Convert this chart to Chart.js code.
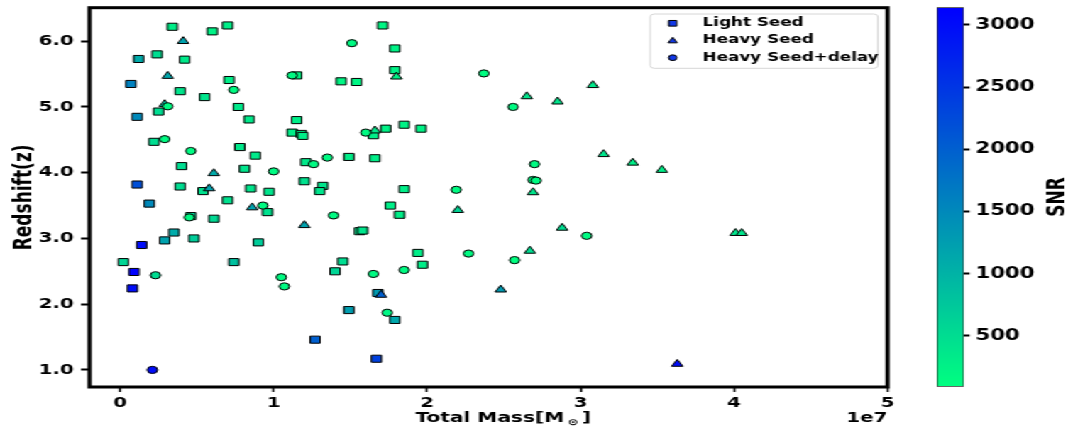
<!DOCTYPE html>
<html>
<head>
<meta charset="utf-8">
<script src="https://cdn.jsdelivr.net/npm/chart.js@4/dist/chart.umd.min.js"></script>
<style>
  html, body { margin: 0; padding: 0; background: #fff; overflow: hidden; }
  /* the reference figure is stretched sideways, so the whole chart is drawn narrow and widened */
  #wrap { position: absolute; left: 0; top: 0; width: 756px; height: 430px; transform: scaleX(1.4193); transform-origin: 0 0; }
  #main { position: absolute; left: 0; top: 0; }
  #cbar { position: absolute; left: 640px; top: 0; }
</style>
</head>
<body>
<div id="wrap">
  <canvas id="main" width="756" height="430"></canvas>
  <canvas id="cbar" width="116" height="430"></canvas>
</div>
<script>
// total mass in units of 1e7 solar masses, redshift, SNR
const lightMass = [0.34, 0.60, 0.70, 0.24, 0.12, 0.42, 1.15, 0.07, 0.71, 1.44, 1.54, 0.39, 0.55, 0.25, 0.77, 0.11, 0.84, 1.15, 1.12, 1.18,
                   1.19, 0.22, 0.78, 0.88, 0.40, 0.81, 1.20, 1.21, 1.49, 0.11, 0.39, 0.54, 0.85, 0.97, 1.32, 1.30, 0.70, 0.19, 0.96, 0.46,
                   0.61, 1.56, 1.58, 0.35, 0.29, 0.48, 0.90, 0.14, 0.02, 0.74, 1.45, 1.40, 0.09, 0.08, 1.49, 1.27, 1.71, 1.79, 1.79, 1.65,
                   1.73, 1.85, 1.96, 1.66, 1.85, 1.76, 1.82, 1.94, 1.97, 1.68, 1.79, 1.67];
const lightZ = [6.22, 6.15, 6.24, 5.80, 5.73, 5.72, 5.48, 5.35, 5.41, 5.39, 5.38, 5.24, 5.15, 4.93, 5.00, 4.85, 4.81, 4.80, 4.61, 4.59,
                4.56, 4.47, 4.39, 4.26, 4.10, 4.06, 3.87, 4.16, 4.24, 3.82, 3.79, 3.72, 3.76, 3.71, 3.80, 3.72, 3.58, 3.53, 3.40, 3.34,
                3.30, 3.11, 3.12, 3.09, 2.97, 3.00, 2.94, 2.90, 2.64, 2.64, 2.65, 2.50, 2.49, 2.24, 1.91, 1.46, 6.24, 5.89, 5.56, 4.57,
                4.67, 4.73, 4.67, 4.22, 3.75, 3.50, 3.36, 2.78, 2.60, 2.17, 1.76, 1.17];
const lightSnr = [300, 250, 300, 500, 1100, 350, 200, 1600, 300, 200, 200, 400, 400, 500, 350, 1500, 350, 300, 300, 300,
                  300, 500, 350, 350, 500, 400, 450, 350, 300, 2200, 500, 450, 400, 400, 400, 400, 450, 1500, 450, 600,
                  550, 400, 400, 1100, 1200, 700, 700, 3000, 600, 850, 500, 600, 3142, 3000, 1250, 2000, 200, 250, 250, 300,
                  250, 250, 250, 300, 300, 300, 300, 300, 300, 1300, 1150, 2380];

const heavyMass = [0.41, 0.31, 0.29, 0.61, 0.58, 0.86, 1.20, 1.80, 3.08, 2.65, 2.85, 1.66, 3.15, 3.34, 3.53, 2.69, 2.20, 2.88, 2.67, 1.70,
                   2.48, 4.01, 4.05, 3.63];
const heavyZ = [6.00, 5.47, 5.04, 3.99, 3.76, 3.47, 3.20, 5.46, 5.33, 5.16, 5.08, 4.64, 4.28, 4.15, 4.04, 3.70, 3.43, 3.16, 2.81, 2.14,
                2.22, 3.08, 3.08, 1.09];
const heavySnr = [1200, 1150, 900, 1100, 1200, 1200, 1200, 250, 350, 400, 400, 350, 400, 300, 300, 400, 600, 500, 500, 2000,
                  1300, 400, 400, 3000];

const delayMass = [1.51, 1.12, 0.74, 0.31, 1.60, 0.29, 0.46, 1.00, 1.26, 1.35, 0.93, 1.39, 0.45, 0.23, 1.05, 1.07, 0.21, 2.37, 2.56, 2.70,
                   2.69, 2.71, 2.19, 3.04, 2.27, 2.57, 1.65, 1.85, 1.74];
const delayZ = [5.97, 5.48, 5.26, 5.01, 4.61, 4.51, 4.33, 4.02, 4.13, 4.23, 3.50, 3.35, 3.32, 2.44, 2.41, 2.27, 1.00, 5.51, 5.00, 4.13,
                3.89, 3.88, 3.74, 3.04, 2.77, 2.67, 2.46, 2.52, 1.87];
const delaySnr = [150, 150, 150, 150, 150, 150, 150, 150, 150, 150, 150, 150, 150, 500, 150, 150, 3000, 120, 150, 150,
                  150, 150, 150, 150, 150, 92, 150, 150, 200];

const seriesNames = ['Light Seed', 'Heavy Seed', 'Heavy Seed+delay'];
const xTicks = [0, 1, 2, 3, 4, 5];
const yTicks = [1, 2, 3, 4, 5, 6];
const snrTicks = [500, 1000, 1500, 2000, 2500, 3000];
const snrMin = 92, snrMax = 3142;

// matplotlib "winter", reversed: green for low SNR, blue for high
function winter(v) {
    const t = Math.min(1, Math.max(0, (v - snrMin) / (snrMax - snrMin)));
    return `rgb(0,${Math.round(255 * (1 - t))},${Math.round(255 * (0.5 + 0.5 * t))})`;
}

const FONT = 'DejaVu Sans';
Chart.defaults.font.family = FONT;
Chart.defaults.font.weight = 'bold';
Chart.defaults.color = '#000';

function points(xs, ys) { return xs.map((x, i) => ({ x: x, y: ys[i] })); }

// stop the axes from pushing the plot area in to make room for end labels
function noEdgePadding(s) { s.paddingTop = 0; s.paddingBottom = 0; s.paddingLeft = 0; s.paddingRight = 0; }

function drawMarker(ctx, style, x, y, r) {
    ctx.beginPath();
    if (style === 'rect') {
        const s = r * Math.SQRT1_2;
        ctx.rect(x - s, y - s, 2 * s, 2 * s);
    } else if (style === 'triangle') {
        for (let k = 0; k < 3; k++) {
            const a = k * 2 * Math.PI / 3;
            const px = x + Math.sin(a) * r, py = y - Math.cos(a) * r;
            k ? ctx.lineTo(px, py) : ctx.moveTo(px, py);
        }
        ctx.closePath();
    } else {
        ctx.arc(x, y, r, 0, 2 * Math.PI);
    }
    ctx.fill();
    ctx.stroke();
}

const markers = [
    { style: 'rect', radius: 5 },
    { style: 'triangle', radius: 4.6 },
    { style: 'circle', radius: 3.6 }
];

const framePlugin = {
    id: 'frame',
    afterDraw(chart) {
        const { ctx, chartArea: a } = chart;
        ctx.save();
        ctx.strokeStyle = '#000';
        ctx.lineWidth = 3;
        ctx.strokeRect(a.left, a.top, a.right - a.left, a.bottom - a.top);

        // x label with the solar subscript, and the 1e7 offset text
        ctx.fillStyle = '#000';
        ctx.textBaseline = 'alphabetic';
        const big = `bold 14.2px "${FONT}"`, small = `bold 9px "${FONT}"`;
        ctx.font = big;
        const w1 = ctx.measureText('Total Mass[M').width, w3 = ctx.measureText(']').width;
        ctx.font = small;
        const w2 = ctx.measureText('\u2299').width;
        let x = 354.6 - (w1 + w2 + w3 + 5) / 2;
        const base = 422;
        ctx.textAlign = 'left';
        ctx.font = big; ctx.fillText('Total Mass[M', x, base); x += w1 + 2.5;
        ctx.font = small; ctx.fillText('\u2299', x, base + 2.5); x += w2 + 2.5;
        ctx.font = big; ctx.fillText(']', x, base);
        ctx.textAlign = 'right';
        ctx.font = `bold 14px "${FONT}"`;
        ctx.fillText('1e7', a.right, 422);

        // legend
        const lx = 458.1, ly = 14, lw = 160.5, lh = 54.3;
        ctx.beginPath();
        ctx.roundRect(lx, ly, lw, lh, 3);
        ctx.fillStyle = 'rgba(255,255,255,0.8)';
        ctx.fill();
        ctx.strokeStyle = '#d6d6d6';
        ctx.lineWidth = 1;
        ctx.stroke();
        const rows = [23.3, 40.2, 57.7];
        ctx.textAlign = 'left';
        ctx.textBaseline = 'middle';
        ctx.font = `bold 11.8px "${FONT}"`;
        seriesNames.forEach((name, i) => {
            ctx.fillStyle = '#1238e6';
            ctx.strokeStyle = '#000';
            ctx.lineWidth = 1;
            drawMarker(ctx, markers[i].style, 474, rows[i] + (i === 1 ? 0.8 : 0), markers[i].radius * 0.8);
            ctx.fillStyle = '#000';
            ctx.fillText(name, 495.1, rows[i]);
        });
        ctx.restore();
    }
};

const sets = [[lightMass, lightZ, lightSnr], [heavyMass, heavyZ, heavySnr], [delayMass, delayZ, delaySnr]];

new Chart(document.getElementById('main'), {
    type: 'scatter',
    data: {
        datasets: sets.map((s, i) => ({
            label: seriesNames[i],
            data: points(s[0], s[1]),
            backgroundColor: s[2].map(winter),
            borderColor: '#000',
            borderWidth: 1,
            pointStyle: markers[i].style,
            pointRadius: markers[i].radius,
            order: 3 - i
        }))
    },
    options: {
        responsive: false,
        animation: false,
        events: [],
        layout: { padding: { top: 7.7, right: 130.7, left: 0, bottom: 0 } },
        plugins: { legend: { display: false }, tooltip: { enabled: false } },
        scales: {
            x: {
                type: 'linear', min: -0.2, max: 5.0,
                afterBuildTicks: s => { s.ticks = xTicks.map(v => ({ value: v })); },
                afterFit: s => { s.height = 43; noEdgePadding(s); },
                ticks: { callback: v => String(v), font: { size: 14, weight: 'bold' }, padding: 3, maxRotation: 0 },
                grid: { drawOnChartArea: false, drawTicks: true, tickLength: 5, tickWidth: 1.5, tickColor: '#000' },
                border: { display: false }
            },
            y: {
                type: 'linear', min: 0.74, max: 6.51,
                afterBuildTicks: s => { s.ticks = yTicks.map(v => ({ value: v })); },
                afterFit: s => { s.width = 63.06; noEdgePadding(s); },
                ticks: { callback: v => v.toFixed(1), font: { size: 14, weight: 'bold' }, padding: 5 },
                grid: { drawOnChartArea: false, drawTicks: true, tickLength: 6, tickWidth: 2, tickColor: '#000' },
                border: { display: false },
                title: { display: true, text: 'Redshift(z)', font: { size: 17, weight: 'bold' }, padding: { top: 7, bottom: 0 } }
            }
        }
    },
    plugins: [framePlugin]
});

const snrLabelPlugin = {
    id: 'snrLabel',
    afterDraw(chart) {
        const ctx = chart.ctx;
        ctx.save();
        ctx.translate(105.1, 197);
        ctx.rotate(-Math.PI / 2);
        ctx.textAlign = 'center';
        ctx.textBaseline = 'middle';
        ctx.fillStyle = '#000';
        ctx.font = `bold 17px "${FONT}"`;
        ctx.fillText('SNR', 0, 0);
        ctx.restore();
    }
};

new Chart(document.getElementById('cbar'), {
    type: 'bar',
    data: {
        labels: ['SNR'],
        datasets: [{
            data: [[snrMin, snrMax]],
            backgroundColor: c => {
                const ch = c.chart;
                if (!ch.chartArea) return winter(snrMin);
                const y = ch.scales.y;
                const g = ch.ctx.createLinearGradient(0, y.getPixelForValue(snrMin), 0, y.getPixelForValue(snrMax));
                g.addColorStop(0, winter(snrMin));
                g.addColorStop(1, winter(snrMax));
                return g;
            },
            borderColor: '#333',
            borderWidth: 1,
            borderSkipped: false,
            barPercentage: 1,
            categoryPercentage: 1
        }]
    },
    options: {
        responsive: false,
        animation: false,
        events: [],
        layout: { padding: { left: 20, top: 7.3, bottom: 43.3, right: 0 } },
        plugins: { legend: { display: false }, tooltip: { enabled: false } },
        scales: {
            x: { display: false },
            y: {
                position: 'right', min: snrMin, max: snrMax,
                afterBuildTicks: s => { s.ticks = snrTicks.map(v => ({ value: v })); },
                afterFit: s => { s.width = 76.8; noEdgePadding(s); },
                ticks: { callback: v => String(v), font: { size: 15, weight: 'bold' }, padding: 4 },
                grid: { drawOnChartArea: false, drawTicks: true, tickLength: 4, tickWidth: 2, tickColor: '#000' },
                border: { display: false }
            }
        }
    },
    plugins: [snrLabelPlugin]
});
</script>
</body>
</html>
